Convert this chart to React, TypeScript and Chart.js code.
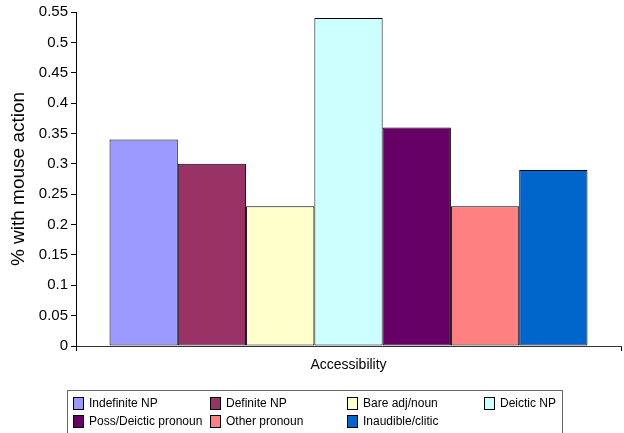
import React, { useEffect, useRef } from "react";
import { Chart, registerables } from "chart.js";

Chart.register(...registerables);

const categories = ["Accessibility"];
const seriesNames = [
  "Indefinite NP",
  "Definite NP",
  "Bare adj/noun",
  "Deictic NP",
  "Poss/Deictic pronoun",
  "Other pronoun",
  "Inaudible/clitic",
];
const seriesValues = [0.34, 0.3, 0.23, 0.54, 0.36, 0.23, 0.29];
const seriesColors = ["#9999FF", "#993366", "#FFFFCC", "#CCFFFF", "#660066", "#FF8080", "#0066CC"];
const yTickValues = [0, 0.05, 0.1, 0.15, 0.2, 0.25, 0.3, 0.35, 0.4, 0.45, 0.5, 0.55];
const yTitle = "% with mouse action";

const FONT = "'Liberation Sans', Arial, sans-serif";

const legendPlugin = {
  id: "boxLegend",
  afterDraw(chart: any) {
    const ctx = chart.ctx;
    ctx.save();
    ctx.strokeStyle = "#666";
    ctx.lineWidth = 1;
    ctx.strokeRect(67.5, 390.5, 495, 60);
    const colX = [73, 210, 347, 484];
    const rowY = [403, 421];
    ctx.font = `12px ${FONT}`;
    ctx.textBaseline = "middle";
    ctx.textAlign = "left";
    seriesNames.forEach((name, i) => {
      const col = i % 4;
      const row = Math.floor(i / 4);
      const x = colX[col];
      const y = rowY[row];
      ctx.fillStyle = seriesColors[i];
      ctx.fillRect(x, y - 6, 10, 12);
      ctx.strokeStyle = "#000";
      ctx.strokeRect(x + 0.5, y - 6 + 0.5, 10, 12);
      ctx.fillStyle = "#000";
      ctx.fillText(name, x + 16, y + 0.5);
    });
    ctx.restore();
  },
};

export default function App() {
  const ref = useRef<HTMLCanvasElement>(null);
  useEffect(() => {
    document.body.style.margin = "0";
    const chart = new Chart(ref.current!, {
      type: "bar",
      data: {
        labels: categories,
        datasets: seriesNames.map((name, i) => ({
          label: name,
          data: [seriesValues[i]],
          backgroundColor: seriesColors[i],
          borderColor: "#000",
          borderWidth: 1,
          borderSkipped: false,
          categoryPercentage: 0.877,
          barPercentage: 1,
        })),
      },
      options: {
        animation: false,
        responsive: false,
        maintainAspectRatio: false,
        layout: { padding: { top: 7, right: 3, left: 0, bottom: 0 } },
        plugins: {
          legend: { display: false },
          tooltip: { enabled: false },
        },
        scales: {
          x: {
            afterFit: (s: any) => {
              s.height = 87;
            },
            border: { display: true, color: "#333", width: 1 },
            grid: {
              display: true,
              drawOnChartArea: false,
              drawTicks: true,
              tickLength: 5,
              color: "#000",
              offset: true,
            },
            ticks: {
              color: "#000",
              padding: 6,
              font: { family: FONT, size: 14 },
            },
          },
          y: {
            min: 0,
            max: 0.55,
            afterFit: (s: any) => {
              s.width = 76;
            },
            afterBuildTicks: (s: any) => {
              s.ticks = yTickValues.map((v) => ({ value: v }));
            },
            border: { display: true, color: "#000", width: 1 },
            grid: {
              display: true,
              drawOnChartArea: false,
              drawTicks: true,
              tickLength: 5,
              color: "#000",
            },
            ticks: {
              color: "#000",
              padding: 3,
              font: { family: FONT, size: 15 },
              callback: (v: any) => String(+Number(v).toFixed(2)),
            },
            title: {
              display: true,
              text: yTitle,
              color: "#000",
              font: { family: FONT, size: 19 },
              padding: { top: 7, bottom: 0 },
            },
          },
        },
      },
      plugins: [legendPlugin],
    });
    return () => chart.destroy();
  }, []);
  return (
    <div style={{ width: 624, height: 433, position: "relative" }}>
      <canvas ref={ref} width={624} height={433} style={{ display: "block" }} />
    </div>
  );
}
